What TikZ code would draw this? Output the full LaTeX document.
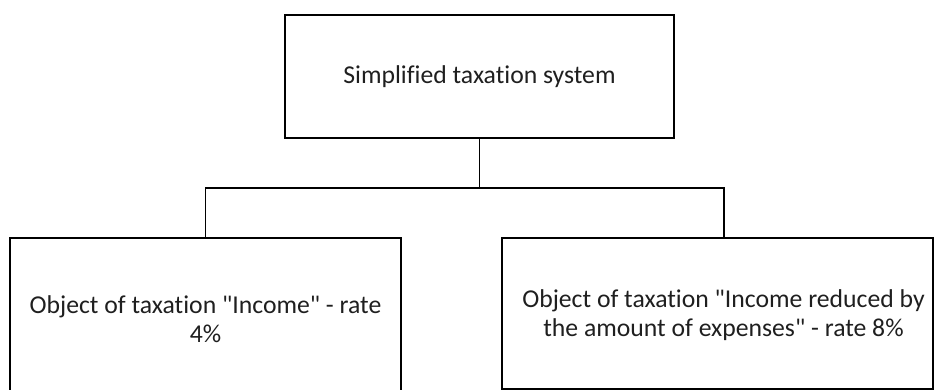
\documentclass[tikz,border=0pt]{standalone}
\usepackage{fontspec}
\setmainfont{Carlito}[Ligatures={NoCommon,NoContextual}]
\newcommand{\qq}{\textquotedbl}
\begin{document}
\begin{tikzpicture}[x=1pt,y=-1pt,
  box/.style={draw=black,line width=1.8pt,fill=none},
  lbl/.style={align=center,font=\fontsize{25.7}{28.5}\selectfont,text=black!88,inner sep=0pt},
  conn/.style={draw=black,line width=1.8pt}]
\useasboundingbox (0,0) rectangle (935,390);
% boxes
\draw[box] (285,15) rectangle (674,138);
\node[lbl] (top) at (479.5,76.5) {Simplified taxation system};
\draw[box] (10,238) rectangle (401,400);
\node[lbl] (left) at (205.5,319) {Object of taxation \qq Income\qq{} - rate\\4\%};
\draw[box] (502,238) rectangle (933,389);
\node[lbl] (right) at (723.5,315) {Object of taxation \qq Income reduced by\\the amount of expenses\qq{} - rate 8\%};
% connectors
\coordinate (tb) at (479.5,138);
\coordinate (hm) at (479.5,188);
\coordinate (hl) at (205.5,188);
\coordinate (hr) at (724,188);
\coordinate (lt) at (205.5,238);
\coordinate (rt) at (724,238);
\draw[conn] (tb) -- (hm);
\draw[conn,line cap=rect] (lt) -- (hl) -- (hr) -- (rt);
\end{tikzpicture}
\end{document}
